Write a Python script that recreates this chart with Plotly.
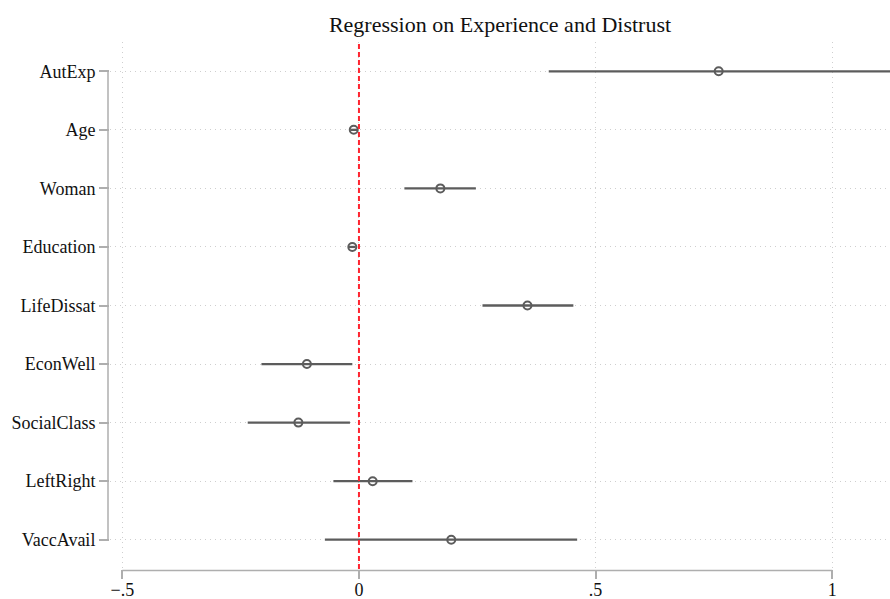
import plotly.graph_objects as go

variables = ["AutExp", "Age", "Woman", "Education", "LifeDissat",
             "EconWell", "SocialClass", "LeftRight", "VaccAvail"]
coef = [0.760, -0.011, 0.172, -0.014, 0.356, -0.110, -0.128, 0.029, 0.195]
ci_low = [0.401, -0.018, 0.096, -0.021, 0.261, -0.206, -0.235, -0.054, -0.072]
ci_high = [1.125, -0.004, 0.247, -0.007, 0.453, -0.014, -0.019, 0.113, 0.461]

x_ticks = [-0.5, 0, 0.5, 1]
x_ticklabels = ["\u2212.5", "0", ".5", "1"]
title_text = "Regression on Experience and Distrust"

ypos = list(range(1, len(variables) + 1))
err_plus = [h - c for h, c in zip(ci_high, coef)]
err_minus = [c - l for c, l in zip(coef, ci_low)]

FONT = "Liberation Serif, Times New Roman, serif"
AXIS_GRAY = "#aeaeae"
DATA_GRAY = "#5c5c5c"
GRID = "#cfcfcf"

fig = go.Figure()
fig.add_trace(go.Scatter(
    x=coef, y=ypos, mode="markers",
    marker=dict(symbol="circle-open", size=8, color=DATA_GRAY,
                line=dict(width=2, color=DATA_GRAY)),
    error_x=dict(type="data", array=err_plus, arrayminus=err_minus,
                 symmetric=False, width=0, thickness=2.3, color=DATA_GRAY),
    showlegend=False, cliponaxis=True,
))

W, H = 890, 599
ml, mr, mt, mb = 110, 0, 42, 30
pw, ph = W - ml - mr, H - mt - mb

shapes = [
    # red reference line at zero
    dict(type="line", xref="x", yref="paper", x0=0, x1=0, y0=0, y1=1,
         line=dict(color="#ff2530", width=2, dash="5px,3px"), layer="above"),
    # x axis line spanning tick range
    dict(type="line", xref="x", yref="paper", x0=x_ticks[0], x1=x_ticks[-1],
         y0=-1.5 / ph, y1=-1.5 / ph, line=dict(color=AXIS_GRAY, width=1.5)),
    # y axis line spanning category range
    dict(type="line", xref="paper", yref="y", x0=-2 / pw, x1=-2 / pw,
         y0=ypos[0], y1=ypos[-1], line=dict(color=AXIS_GRAY, width=1.5)),
]

fig.update_layout(
    width=W, height=H,
    margin=dict(l=ml, r=mr, t=mt, b=mb),
    paper_bgcolor="white", plot_bgcolor="white",
    font=dict(family=FONT, size=17, color="#111111"),
    title=dict(text=title_text, x=0.5, xref="paper", xanchor="center",
               y=1 - 24 / H, yanchor="middle",
               font=dict(family=FONT, size=22, color="#111111")),
    shapes=shapes,
    xaxis=dict(range=[-0.526, 1.122], tickvals=x_ticks, ticktext=x_ticklabels,
               showgrid=True, gridcolor=GRID, griddash="1px,4px", gridwidth=1,
               zeroline=False, showline=False, automargin=False,
               ticks="outside", ticklen=9, tickcolor=AXIS_GRAY, tickwidth=1.5,
               ticklabelstandoff=-5,
               tickfont=dict(family=FONT, size=18, color="#111111")),
    yaxis=dict(range=[9.5, 0.5], tickvals=ypos, ticktext=variables,
               showgrid=True, gridcolor=GRID, griddash="1px,4px", gridwidth=1,
               zeroline=False, showline=False, automargin=False,
               ticks="outside", ticklen=10, tickcolor=AXIS_GRAY, tickwidth=1.5,
               tickfont=dict(family=FONT, size=18, color="#111111")),
)

fig.write_html("out.html")
